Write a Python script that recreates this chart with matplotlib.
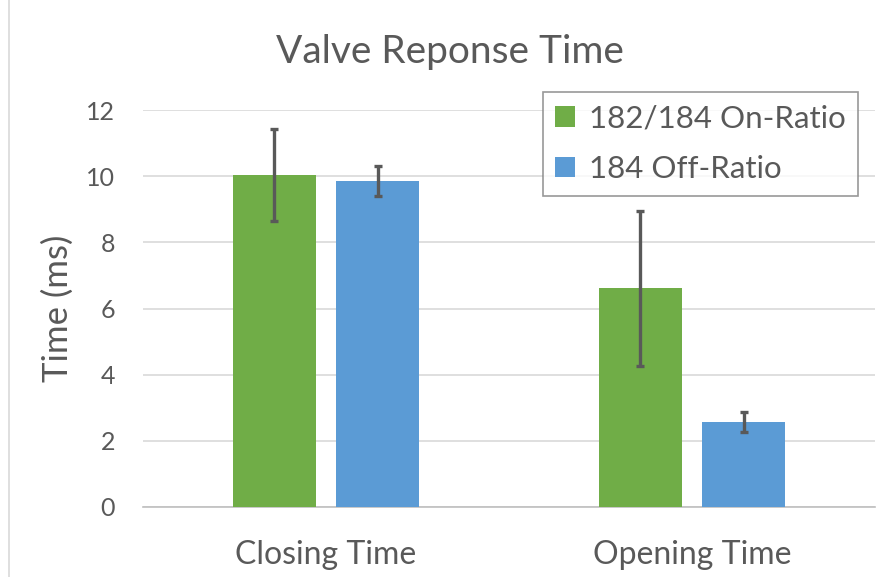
import matplotlib
matplotlib.use("Agg")
import matplotlib.pyplot as plt
import numpy as np

categories = ["Closing Time", "Opening Time"]
series_names = ["182/184 On-Ratio", "184 Off-Ratio"]
on_ratio = [10.03, 6.61]
on_ratio_err = [1.40, 2.35]
off_ratio = [9.85, 2.58]
off_ratio_err = [0.45, 0.30]
yticks = [0, 2, 4, 6, 8, 10, 12]

plt.rcParams['font.family'] = ['Lato', 'DejaVu Sans']
W, H = 878, 577
fig = plt.figure(figsize=(W/100, H/100), dpi=100)
ax = fig.add_axes([143/W, 1-507/H, (875-143)/W, (507-110)/H])

x = np.arange(len(categories))
bw = 0.227
off = bw/2 + 0.0275
green = "#70AD47"
blue = "#5B9BD5"
ekw = dict(ecolor="#595959", elinewidth=2.4, capsize=3, capthick=2.4)
ax.bar(x - off, on_ratio, bw, yerr=on_ratio_err, color=green, label=series_names[0], error_kw=ekw, zorder=3)
ax.bar(x + off, off_ratio, bw, yerr=off_ratio_err, color=blue, label=series_names[1], error_kw=ekw, zorder=3)

ax.set_xlim(-0.5, 1.5)
ax.set_ylim(0, 12)
ax.set_yticks(yticks)
ax.set_xticks(x)
ax.set_xticklabels(categories)
ax.grid(axis='y', color="#D9D9D9", linewidth=1.2, zorder=0)
for s in ['top', 'right', 'left']:
    ax.spines[s].set_visible(False)
ax.spines['bottom'].set_color("#BFBFBF")
ax.spines['bottom'].set_linewidth(1.2)
ax.tick_params(axis='both', length=0, colors="#595959")
ax.tick_params(axis='y', pad=20, labelsize=18)
ax.tick_params(axis='x', pad=24, labelsize=23)
ax.set_ylabel("Time (ms)", fontsize=25, color="#595959", labelpad=9)

fig.text(450/W, 1-52/H, "Valve Reponse Time", ha='center', va='center', fontsize=28, color="#595959")

leg = ax.legend(loc='upper right', bbox_to_anchor=(858/W, 1-92/H), bbox_transform=fig.transFigure,
                borderaxespad=0,
                fontsize=22.5, frameon=True, fancybox=False, handlelength=0.62, handleheight=0.62,
                handletextpad=0.45, borderpad=0.4, labelspacing=0.72, labelcolor="#595959")
leg.get_frame().set_edgecolor("#7F7F7F")
leg.get_frame().set_linewidth(1.2)

fig.add_artist(plt.Line2D([9/W, 9/W], [0, 1], color="#D9D9D9", linewidth=1.2, transform=fig.transFigure))

fig.savefig("out.png", dpi=100)
